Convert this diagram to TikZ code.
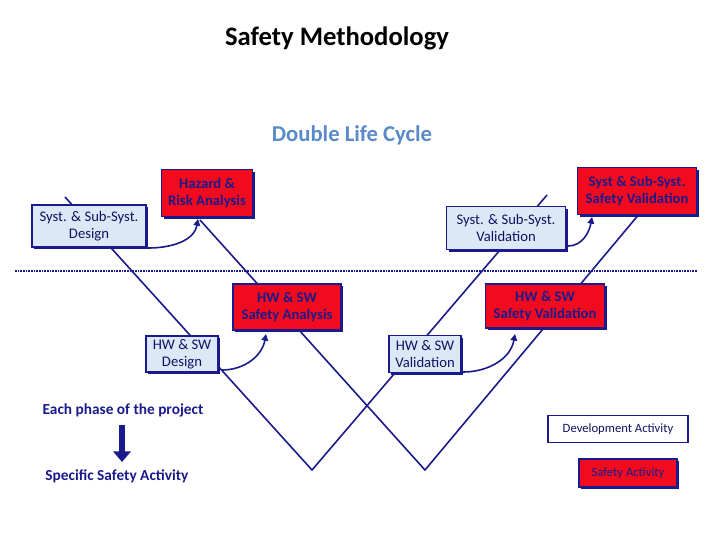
\documentclass[tikz,border=0pt]{standalone}
\usepackage{fontspec}
\setmainfont{Carlito}
\usetikzlibrary{shadows,arrows.meta}
\definecolor{navy}{HTML}{1A1A8C}
\definecolor{lightb}{HTML}{DDE8F6}
\definecolor{redf}{HTML}{F20A1E}
\definecolor{steel}{HTML}{5A8AC8}
\begin{document}
\begin{tikzpicture}[x=0.75pt,y=-0.75pt,
  dev/.style={draw=navy,line width=1.2pt,fill=lightb,align=center,font=\fontsize{11}{12.5}\selectfont,text=navy!70!black,inner sep=2pt,drop shadow={shadow xshift=1.5pt,shadow yshift=-1.5pt,fill=navy,opacity=1}},
  saf/.style={draw=navy,line width=1.2pt,fill=redf,align=center,font=\fontsize{11}{12.5}\selectfont\bfseries,text=navy,inner sep=2pt,drop shadow={shadow xshift=1.5pt,shadow yshift=-1.5pt,fill=navy,opacity=1}},
  vline/.style={draw=navy,line width=1.2pt},
  lbl/.style={text=navy,font=\fontsize{11.5}{13}\selectfont\bfseries},
  carr/.style={draw=navy,line width=1.2pt,-{Triangle[length=5pt,width=5pt]}}]
\useasboundingbox (0,0) rectangle (720,540);
\node[font=\fontsize{20}{24}\selectfont\bfseries] (t1) at (337,38) {Safety Methodology};
\node[font=\fontsize{17}{20}\selectfont\bfseries,text=steel] (t2) at (352,135) {Double Life Cycle};
% V lines
\coordinate (a1) at (65,197); \coordinate (b1) at (312,470); \coordinate (c1) at (547,195);
\coordinate (a2) at (200,220); \coordinate (b2) at (425,470); \coordinate (c2) at (640,213);
\draw[vline] (a1)--(b1)--(c1);
\draw[vline] (a2)--(b2)--(c2);
\coordinate (d1) at (15,271); \coordinate (d2) at (697,271);
\draw[navy,line width=2pt,dash pattern=on 1.2pt off 0.8pt] (d1)--(d2);
% boxes
\node[dev,minimum width=114*0.75pt,minimum height=42*0.75pt] (sd) at (89,226) {Syst. \& Sub-Syst.\\Design};
\node[saf,minimum width=91*0.75pt,minimum height=47*0.75pt] (ha) at (207,193) {Hazard \&\\Risk Analysis};
\node[dev,minimum width=119*0.75pt,minimum height=43*0.75pt] (sv) at (506,228) {Syst. \& Sub-Syst.\\Validation};
\node[saf,minimum width=119*0.75pt,minimum height=47*0.75pt] (ssv) at (637,191) {Syst \& Sub-Syst.\\Safety Validation};
\node[saf,minimum width=108*0.75pt,minimum height=46*0.75pt] (hsa) at (287,307) {HW \& SW\\Safety Analysis};
\node[dev,minimum width=72*0.75pt,minimum height=36*0.75pt] (hd) at (182,354) {HW \& SW\\Design};
\node[saf,minimum width=119*0.75pt,minimum height=44*0.75pt] (hsv) at (545,306) {HW \& SW\\Safety Validation};
\node[dev,minimum width=72*0.75pt,minimum height=37*0.75pt] (hv) at (425,354) {HW \& SW\\Validation};
% curved arrows
\coordinate (s1) at (148,248); \coordinate (e1) at (198,219);
\coordinate (s2) at (222,370); \coordinate (e2) at (266,334);
\coordinate (s3) at (568,246); \coordinate (e3) at (592,217);
\coordinate (s4) at (463,372); \coordinate (e4) at (515,334);
\draw[carr] (s1) to[out=0,in=-100] (e1);
\draw[carr] (s2) to[out=0,in=-100] (e2);
\draw[carr] (s3) to[out=0,in=-100] (e3);
\draw[carr] (s4) to[out=0,in=-100] (e4);
% legend
\node[lbl] (ep) at (123,410) {Each phase of the project};
\node[lbl] (ssa) at (117,476) {Specific Safety Activity};
\coordinate (ar1) at (122,425); \coordinate (ar2) at (122,462);
\draw[navy,line width=5pt,-{Triangle[length=8pt,width=13pt]}] (ar1)--(ar2);
\node[draw=navy,line width=1.2pt,fill=white,font=\fontsize{9.5}{11}\selectfont,text=navy!70!black,minimum width=140*0.75pt,minimum height=27*0.75pt,inner sep=1pt] (da) at (618,429) {Development Activity};
\node[saf,font=\fontsize{9.5}{11}\selectfont,minimum width=98*0.75pt,minimum height=28*0.75pt] (sa) at (628,473) {Safety Activity};
\end{tikzpicture}
\end{document}
